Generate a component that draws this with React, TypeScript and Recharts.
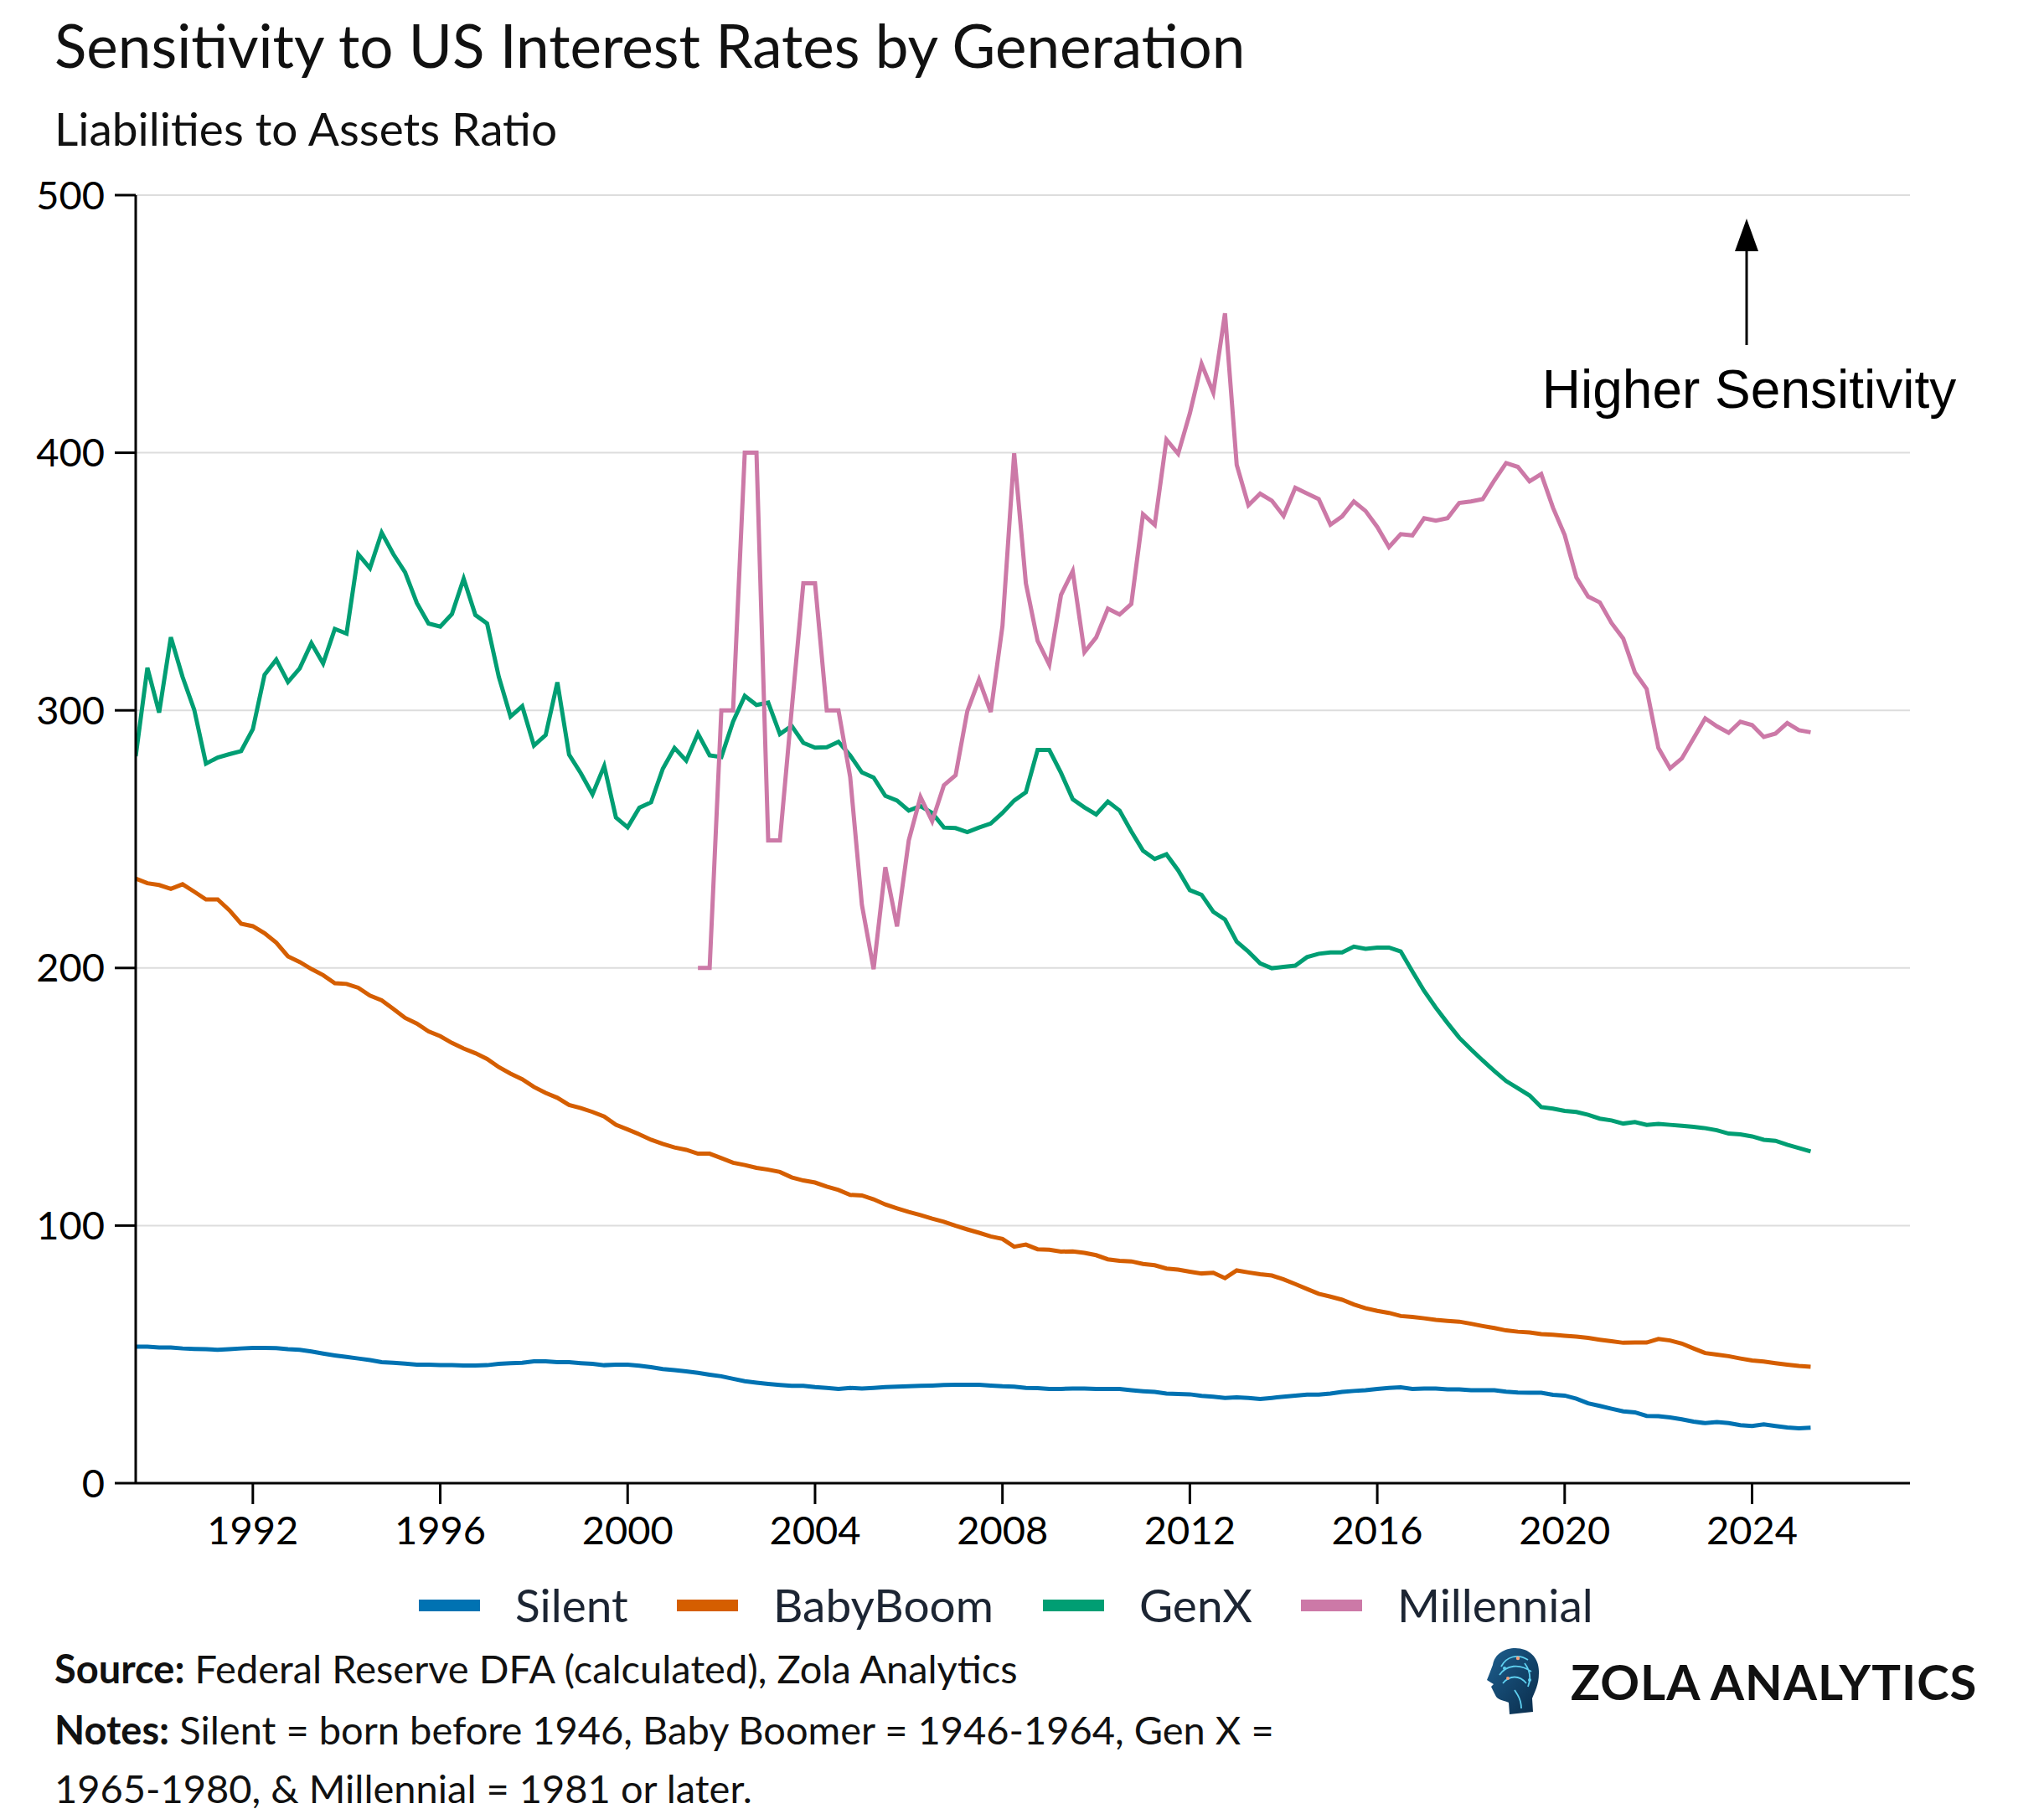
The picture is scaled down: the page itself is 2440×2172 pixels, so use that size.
import React from 'react';
import { LineChart, Line, XAxis, YAxis, CartesianGrid } from 'recharts';

// Quarterly observations, 1989 Q3 .. 2025 Q2
const START_YEAR = 1989.5;
const QUARTER = 0.25;

const silent = [
  53, 53, 52.7, 52.7, 52.3, 52.1, 52, 51.8, 52, 52.3, 52.5,
  52.5, 52.4, 52, 51.8, 51.1, 50.3, 49.6, 49, 48.4, 47.8,
  47, 46.7, 46.4, 46, 46, 45.8, 45.8, 45.7, 45.7, 45.8,
  46.3, 46.6, 46.7, 47.3, 47.3, 47, 47, 46.6, 46.3, 45.8,
  46, 46, 45.6, 45, 44.3, 43.9, 43.4, 42.8, 42.1, 41.5,
  40.5, 39.6, 39, 38.5, 38.1, 37.8, 37.8, 37.3, 37, 36.6,
  37, 36.7, 37, 37.3, 37.5, 37.6, 37.8, 37.9, 38.1, 38.2,
  38.2, 38.2, 37.9, 37.6, 37.5, 37, 36.9, 36.6, 36.6, 36.7,
  36.7, 36.6, 36.6, 36.6, 36.1, 35.7, 35.4, 34.8, 34.6, 34.5,
  33.9, 33.6, 33.1, 33.3, 33.1, 32.7, 33.1, 33.6, 34,
  34.4, 34.4, 34.8, 35.4, 35.8, 36.1, 36.6, 37, 37.2, 36.6,
  36.7, 36.7, 36.4, 36.4, 36.1, 36.1, 36.1, 35.5, 35.2, 35.1,
  35.1, 34.3, 34, 32.8, 31, 30, 28.9, 27.9, 27.5, 26.1,
  26, 25.5, 24.8, 23.9, 23.3, 23.7, 23.3, 22.5, 22.2, 22.8,
  22.2, 21.6, 21.3, 21.5,
];

const babyBoom = [
  234.7, 232.9, 232.2, 230.7, 232.5, 229.6, 226.6, 226.6, 222.4, 217.2, 216.2,
  213.5, 209.8, 204.5, 202.3, 199.6, 197.2, 194.1, 193.8, 192.3, 189.3,
  187.4, 184.1, 180.6, 178.4, 175.4, 173.5, 170.9, 168.7, 166.9, 164.7,
  161.5, 159, 156.8, 153.8, 151.5, 149.6, 146.8, 145.6, 144.1, 142.3,
  139.1, 137.3, 135.4, 133.3, 131.7, 130.3, 129.4, 127.9, 127.9, 126.2,
  124.4, 123.5, 122.4, 121.7, 120.8, 118.7, 117.5, 116.7, 115.1, 113.8,
  111.9, 111.7, 110.2, 108.2, 106.7, 105.3, 104.1, 102.7, 101.5, 99.9,
  98.5, 97.2, 95.8, 94.8, 91.8, 92.6, 90.8, 90.6, 89.9, 90,
  89.4, 88.5, 86.9, 86.3, 86.1, 85.1, 84.6, 83.3, 82.9, 82.1,
  81.4, 81.7, 79.6, 82.6, 81.8, 81.1, 80.6, 79.1, 77.3,
  75.4, 73.5, 72.4, 71.2, 69.4, 67.9, 66.9, 66.1, 64.9, 64.5,
  64, 63.4, 63, 62.7, 61.9, 61, 60.2, 59.3, 58.8, 58.5,
  57.9, 57.6, 57.2, 56.9, 56.4, 55.7, 55.1, 54.5, 54.6, 54.6,
  56, 55.4, 54.2, 52.3, 50.5, 49.9, 49.3, 48.4, 47.6, 47.2,
  46.6, 46, 45.5, 45.2,
];

const genX = [
  282.2, 316.5, 299.1, 328.4, 313, 300.2, 279.3, 281.7, 283, 284.2, 292.7,
  313.8, 319.7, 311, 316.3, 326.1, 318.2, 331.6, 329.8, 360.6, 355.2,
  369, 360.6, 353.6, 341.7, 333.7, 332.5, 337.4, 351.1, 337, 333.7,
  313, 297.6, 301.6, 286.3, 290.4, 310.9, 282.8, 275.6, 267.4, 278.4,
  258.4, 254.6, 262.2, 264.3, 277.3, 285.4, 280.5, 291, 282.5, 281.9,
  295.6, 305.6,
  302.1, 303, 290.8, 294, 287.4, 285.5, 285.7, 287.8,
  282.5, 275.9, 273.9, 266.8, 265, 261.1, 262.8, 260.2, 254.5, 254.3,
  252.7, 254.5, 256.1, 260.2, 265, 268.2, 284.6, 284.6, 275.7, 265.5,
  262.3, 259.6, 264.6, 261.1, 253, 245.5, 242.3, 244.1, 237.9, 230.2,
  228.4, 221.8, 218.8, 210.2, 206.3, 201.8, 199.9, 200.4, 200.9,
  204.2, 205.5, 206, 206, 208.3, 207.4, 207.9, 207.9, 206.4, 198.6,
  191.1, 184.6, 178.6, 172.9, 168.4, 164.1, 160, 156.1, 153.3, 150.5,
  146, 145.4, 144.5, 144.1, 143, 141.5, 140.8, 139.6, 140.2, 139.1,
  139.5, 139.1, 138.7, 138.3, 137.8, 137, 135.7, 135.4, 134.6, 133.3,
  132.9, 131.4, 130.1, 128.8,
];

// Millennial series only starts in 2001 Q3 (48 empty quarters before)
const MILLENNIAL_EMPTY_QUARTERS = 48;
const millennialObserved = [
  200, 200, 300, 300, 400, 400, 249.5, 249.5, 300, 349.3,
  349.3, 300, 300, 274.1, 224.5, 199.5, 239.1, 216.1, 249.5, 266.4,
  257, 270.9, 274.8, 299.7, 311.9, 299.4, 332.7, 399.8, 349.3, 327,
  317.7, 344.8, 354.1, 322.6, 328.3, 339.5, 337.2, 341.3, 376.1, 372,
  405.1, 399.6, 415.3, 434.5, 423.3, 454.1, 395.3, 379.6, 384.1, 381.4,
  375.5, 386.4, 384.2, 382,
  372.1, 375.3, 381.1, 377.4, 371.2, 363.4, 368.4, 367.9, 374.6, 373.6,
  374.6, 380.5, 381.1, 382, 389.3, 396, 394.5, 388.9, 391.7, 378.7,
  368.1, 351.6, 344.2, 341.9, 333.9, 327.9, 314.7, 308.3, 285.4, 277.5,
  281.3, 289.1, 296.9, 293.8, 291.3, 295.6, 294.3, 289.7, 291, 295.1,
  292.3, 291.5,
];
const millennial: (number | null)[] = new Array(MILLENNIAL_EMPTY_QUARTERS).fill(null).concat(millennialObserved);

const X_TICKS = [1992, 1996, 2000, 2004, 2008, 2012, 2016, 2020, 2024];
const Y_TICKS = [0, 100, 200, 300, 400, 500];
const X_DOMAIN: [number, number] = [1989.5, 2027.37];
const Y_DOMAIN: [number, number] = [0, 500];

const SERIES = [
  { key: 'Silent', color: '#0072B2', values: silent },
  { key: 'BabyBoom', color: '#D55E00', values: babyBoom },
  { key: 'GenX', color: '#009E73', values: genX },
  { key: 'Millennial', color: '#CC79A7', values: millennial },
];

const data = silent.map((_, i) => {
  const row: Record<string, number | null> = { t: START_YEAR + i * QUARTER };
  SERIES.forEach((s) => {
    row[s.key] = s.values[i] ?? null;
  });
  return row;
});

const FONT = 'Lato, "Noto Sans", sans-serif';
const LEGEND_X = [500, 808, 1245, 1553];

export default function App() {
  return (
    <div style={{ position: 'absolute', left: 0, top: 0, width: 2440, height: 2172, background: '#fff' }}>
      <div style={{ position: 'absolute', left: 0, top: 0 }}>
        <LineChart width={2440} height={2172} data={data} margin={{ top: 233, right: 160, bottom: 341, left: 62 }}>
          <CartesianGrid vertical={false} stroke="#dddddd" strokeWidth={2} />
          <XAxis
            dataKey="t"
            type="number"
            domain={X_DOMAIN}
            ticks={X_TICKS}
            allowDataOverflow
            height={60}
            tickSize={25}
            tickMargin={15}
            tick={{ fill: '#000', fontSize: 47, fontFamily: FONT }}
            axisLine={{ stroke: '#000', strokeWidth: 3 }}
            tickLine={{ stroke: '#000', strokeWidth: 3 }}
          />
          <YAxis
            type="number"
            domain={Y_DOMAIN}
            ticks={Y_TICKS}
            width={100}
            tickSize={25}
            tickMargin={12}
            tick={{ fill: '#000', fontSize: 47, fontFamily: FONT }}
            axisLine={{ stroke: '#000', strokeWidth: 3 }}
            tickLine={{ stroke: '#000', strokeWidth: 3 }}
          />
          {SERIES.map((s) => (
            <Line
              key={s.key}
              type="linear"
              dataKey={s.key}
              stroke={s.color}
              strokeWidth={5}
              dot={false}
              activeDot={false}
              connectNulls={false}
              isAnimationActive={false}
            />
          ))}
        </LineChart>
      </div>
      <svg
        width={2440}
        height={2172}
        style={{ position: 'absolute', left: 0, top: 0, pointerEvents: 'none' }}
        fontFamily={FONT}
      >
        <defs>
          <linearGradient id="headGrad" x1="0" y1="0" x2="1" y2="1">
            <stop offset="0%" stopColor="#1d5f8f" />
            <stop offset="100%" stopColor="#0a2c4a" />
          </linearGradient>
        </defs>
        <text x={65} y={81} fontSize={71} fill="#111">Sensitivity to US Interest Rates by Generation</text>
        <text x={65} y={174} fontSize={55} fill="#111">Liabilities to Assets Ratio</text>

        <line x1={2085} y1={412} x2={2085} y2={296} stroke="#000" strokeWidth={3} />
        <polygon points="2085,261 2071,300 2099,300" fill="#000" />
        <text x={2088} y={487} fontSize={64} fontFamily='"Liberation Sans", Arial, sans-serif' textAnchor="middle" fill="#000">
          Higher Sensitivity
        </text>

        {SERIES.map((s, i) => (
          <g key={s.key}>
            <rect x={LEGEND_X[i]} y={1910} width={73} height={14} fill={s.color} />
            <text x={LEGEND_X[i] + 115} y={1937} fontSize={55} fill="#1c2533">{s.key}</text>
          </g>
        ))}

        <text x={65} y={2010} fontSize={47} fill="#111">
          <tspan fontWeight="bold">Source:</tspan> Federal Reserve DFA (calculated), Zola Analytics
        </text>
        <text x={65} y={2083} fontSize={47} fill="#111">
          <tspan fontWeight="bold">Notes:</tspan> Silent = born before 1946, Baby Boomer = 1946-1964, Gen X =
        </text>
        <text x={65} y={2153} fontSize={47} fill="#111">1965-1980, &amp; Millennial = 1981 or later.</text>

        <g>
          <path
            d="M1802,2047 L1801,2033 C1795,2030 1787,2030 1785,2024 L1782,2018 L1780,2014 L1783,2011 L1775,2006 C1778,1999 1780,1993 1782,1988 C1784,1975 1796,1968 1809,1968 C1826,1968 1838,1980 1837,1998 C1837,2012 1832,2020 1829,2028 L1830,2044 Z"
            fill="url(#headGrad)"
          />
          <path
            d="M1792,1990 C1798,1978 1812,1974 1824,1982 M1790,2000 C1798,1988 1814,1986 1828,1996 M1794,2010 C1802,2000 1814,2000 1822,2010 M1808,2018 C1812,2024 1816,2030 1816,2040 M1820,1986 C1826,1994 1828,2004 1824,2014"
            stroke="#5fd0f0"
            strokeWidth={1.8}
            fill="none"
          />
          <circle cx={1812} cy={1980} r={2.2} fill="#f4a07e" />
          <circle cx={1800} cy={2004} r={2} fill="#f4a07e" />
          <circle cx={1826} cy={2006} r={2} fill="#5fd0f0" />
          <circle cx={1796} cy={1992} r={2} fill="#5fd0f0" />
        </g>
        <text x={1875} y={2030} fontSize={58} fontWeight="bold" letterSpacing={1} fill="#111">ZOLA ANALYTICS</text>
      </svg>
    </div>
  );
}
